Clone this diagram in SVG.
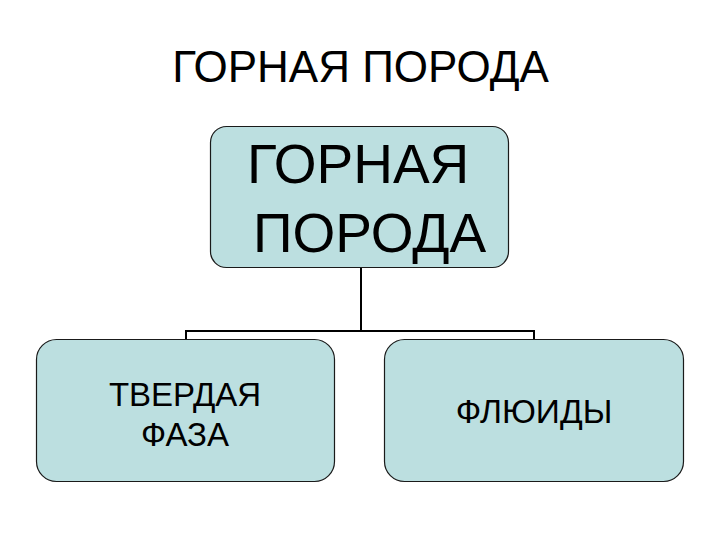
<svg xmlns="http://www.w3.org/2000/svg" width="720" height="540" viewBox="0 0 720 540">
<style>
.box{fill:#bcdfe0;stroke:#1a1a1a;stroke-width:1.2}
.t{font-family:"Liberation Sans",Arial,sans-serif;fill:#000}
.c{fill:none;stroke:#000;stroke-width:2}
</style>
<rect width="720" height="540" fill="#fff"/>
<text class="t" x="360.5" y="82" font-size="44" text-anchor="middle">ГОРНАЯ ПОРОДА</text>
<g id="connectors">
<path class="c" d="M361 268 V331 M186 340 V331 H534 V340"/>
</g>
<g id="root">
<rect class="box" x="210.5" y="126.5" width="298" height="141" rx="16"/>
<text class="t" x="247" y="183" font-size="55">ГОРНАЯ</text>
<text class="t" x="253" y="252" font-size="55">ПОРОДА</text>
</g>
<g id="solid">
<rect class="box" x="36.5" y="339.5" width="298" height="142" rx="20"/>
<text class="t" x="185" y="406" font-size="33" text-anchor="middle">ТВЕРДАЯ</text>
<text class="t" x="185" y="446" font-size="33" text-anchor="middle">ФАЗА</text>
</g>
<g id="fluids">
<rect class="box" x="384.5" y="339.5" width="299" height="142" rx="20"/>
<text class="t" x="534" y="423" font-size="33.5" text-anchor="middle">ФЛЮИДЫ</text>
</g>
</svg>
